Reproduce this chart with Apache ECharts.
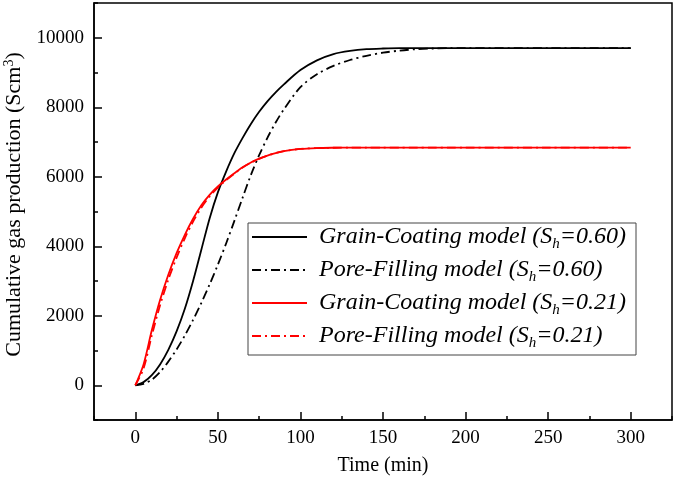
<!DOCTYPE html>
<html>
<head>
    <meta charset="utf-8">
    <script src="https://cdn.jsdelivr.net/npm/echarts@6/dist/echarts.min.js"></script>
</head>
<body style="margin:0;background-color:#ffffff">
    <div id="main" style="width:678px;height:479px;"></div>
    <script type="text/javascript">

        // time (min)
        var times = [0,5,10,15,20,25,30,35,40,45,50,55,60,65,70,75,80,85,90,100,110,120,130,140,150,160,170,180,190,200,250,300];

        // cumulative gas production (Scm3)
        var gc60 = [0,90,290,600,1020,1550,2200,3000,3900,4800,5550,6150,6680,7120,7520,7870,8170,8430,8660,9070,9350,9530,9620,9670,9690,9700,9700,9700,9700,9700,9700,9700];
        var pf60 = [0,40,160,380,680,1030,1430,1880,2370,2900,3470,4080,4730,5400,6050,6620,7120,7560,7940,8580,8950,9190,9360,9480,9570,9630,9670,9690,9700,9700,9700,9700];
        var gc21 = [0,600,1580,2450,3180,3800,4330,4790,5180,5480,5720,5920,6100,6270,6410,6520,6610,6680,6740,6800,6825,6835,6840,6840,6840,6840,6840,6840,6840,6840,6840,6840];
        var pf21 = [0,480,1430,2300,3040,3670,4230,4710,5110,5430,5690,5900,6090,6265,6405,6515,6605,6680,6740,6800,6825,6835,6840,6840,6840,6840,6840,6840,6840,6840,6840,6840];

        var names = [
            'Grain-Coating model (Sh=0.60)',
            'Pore-Filling model (Sh=0.60)',
            'Grain-Coating model (Sh=0.21)',
            'Pore-Filling model (Sh=0.21)'
        ];

        // tick labels
        var xTicks = [0,50,100,150,200,250,300];
        var yTicks = [0,2000,4000,6000,8000,10000];

        var font = 'Liberation Serif, Times New Roman, serif';
        var dashDot = [9,4,2,4];

        function pairs(vals){
            var out = [];
            for (var i = 0; i < times.length; i++) out.push([times[i], vals[i]]);
            return out;
        }

        function line(name, vals, color, type){
            return {
                name: name,
                type: 'line',
                xAxisIndex: 0,
                yAxisIndex: 0,
                data: pairs(vals),
                smooth: 0.3,
                showSymbol: false,
                symbol: 'none',
                lineStyle: {color: color, width: 1.8, type: type},
                itemStyle: {color: color}
            };
        }

        function plain(v){ return String(v); }

        var myChart = echarts.init(document.getElementById('main'));
        var option = {
            animation: false,
            grid: {
                left: 94, right: 6, top: 3, bottom: 59,
                outerBoundsMode: 'none',
                show: true, borderColor: '#000', borderWidth: 1.5
            },
            legend: {
                data: names,
                orient: 'vertical',
                left: 248,
                top: 223,
                padding: [1, 10, 4, 3],
                itemWidth: 55,
                itemHeight: 14,
                itemGap: 5,
                borderColor: '#444',
                borderWidth: 1,
                itemStyle: {opacity: 0},
                formatter: function(name){
                    return name.replace('(Sh', '(S{sub|h}');
                },
                textStyle: {
                    fontFamily: font,
                    fontStyle: 'italic',
                    fontSize: 24,
                    lineHeight: 26,
                    color: '#000',
                    padding: [0, 0, 0, 7],
                    rich: {
                        sub: {
                            fontFamily: font,
                            fontStyle: 'italic',
                            fontSize: 15,
                            color: '#000',
                            padding: [15, 0, 0, 0]
                        }
                    }
                }
            },
            xAxis: [{
                type: 'value',
                position: 'bottom',
                min: -25,
                max: 325,
                name: 'Time (min)',
                nameLocation: 'middle',
                nameGap: 36,
                nameTextStyle: {fontFamily: font, fontSize: 20, color: '#000'},
                axisLine: {onZero: false, lineStyle: {color: '#000', width: 1.5}},
                axisTick: {inside: true, length: 8, customValues: xTicks, lineStyle: {color: '#000', width: 1.5}},
                axisLabel: {customValues: xTicks, formatter: plain, fontFamily: font, fontSize: 19, color: '#000', margin: 9},
                splitLine: {show: false}
            }, {
                type: 'value',
                position: 'bottom',
                min: -25,
                max: 325,
                interval: 25,
                axisLine: {show: false, onZero: false},
                axisTick: {inside: true, length: 4, lineStyle: {color: '#000', width: 1.5}},
                axisLabel: {show: false},
                splitLine: {show: false}
            }],
            yAxis: [{
                type: 'value',
                position: 'left',
                min: -1000,
                max: 11000,
                name: 'Cumulative gas production (Scm{sup|3})',
                nameLocation: 'middle',
                nameGap: 59,
                nameTextStyle: {
                    fontFamily: font, fontSize: 22, color: '#000',
                    padding: [0, 0, 0, 14],
                    rich: {sup: {fontFamily: font, fontSize: 14, color: '#000', padding: [0, 0, 10, 0]}}
                },
                axisLine: {onZero: false, lineStyle: {color: '#000', width: 1.5}},
                axisTick: {inside: true, length: 8, customValues: yTicks, lineStyle: {color: '#000', width: 1.5}},
                axisLabel: {customValues: yTicks, formatter: plain, fontFamily: font, fontSize: 19, color: '#000', margin: 10},
                splitLine: {show: false}
            }, {
                type: 'value',
                position: 'left',
                min: -1000,
                max: 11000,
                interval: 1000,
                axisLine: {show: false, onZero: false},
                axisTick: {inside: true, length: 4, lineStyle: {color: '#000', width: 1.5}},
                axisLabel: {show: false},
                splitLine: {show: false}
            }],
            series: [
                line(names[0], gc60, '#000000', 'solid'),
                line(names[1], pf60, '#000000', dashDot),
                line(names[2], gc21, '#ff0000', 'solid'),
                line(names[3], pf21, '#ff0000', dashDot)
            ]
        };
        myChart.setOption(option);
    </script>
</body>
</html>
